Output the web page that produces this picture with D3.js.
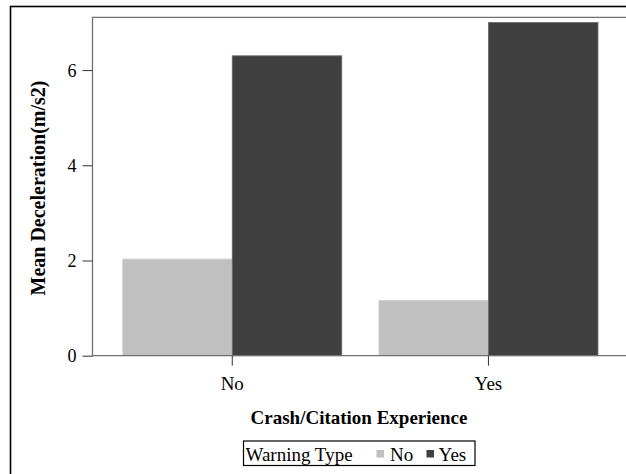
<!DOCTYPE html>
<html><head><meta charset="utf-8">
<script src="https://cdn.jsdelivr.net/npm/d3@7"></script>
<style>body{margin:0;background:#fff}svg{display:block}text{font-family:"Liberation Serif","Times New Roman",serif;fill:#000}</style>
</head><body><svg id="c" width="626" height="474"></svg>
<script>
const categories = ["No", "Yes"];
const seriesNames = ["No", "Yes"];
const valuesNo = [2.03, 1.16];
const valuesYes = [6.30, 7.00];
const yTicks = [0, 2, 4, 6];
const colors = ["#c0c0c0", "#404040"];

const svg = d3.select("#c");
const L = 92.5, T = 17.3, B = 355.7, RB = 628.2;

// outer border
svg.append("rect").attr("x", 10.5).attr("y", 6.5).attr("width", 700).attr("height", 600)
  .attr("fill", "none").attr("stroke", "#000").attr("stroke-width", 1.6);

const x0 = d3.scaleBand().domain(categories).range([L, RB]).paddingInner(0.145).paddingOuter(0.118);
const x1 = d3.scaleBand().domain(seriesNames).range([0, x0.bandwidth()]);
const y = d3.scaleLinear().domain([0, 7.109]).range([B, T]);

const data = categories.map((c, i) => ({cat: c, vals: [valuesNo[i], valuesYes[i]]}));

const g = svg.append("g");
data.forEach(d => {
  d.vals.forEach((v, j) => {
    g.append("rect")
      .attr("x", x0(d.cat) + x1(seriesNames[j]))
      .attr("y", y(v))
      .attr("width", x1.bandwidth())
      .attr("height", B - y(v))
      .attr("fill", colors[j])
      .attr("stroke", j === 0 ? "#cfcfcf" : "#6a6a6a")
      .attr("stroke-width", 0.8);
  });
});

// frame
svg.append("path").attr("d", `M640,${T}H${L}V${B}H640`)
  .attr("fill", "none").attr("stroke", "#707070").attr("stroke-width", 1.3);

// y axis
const ya = svg.append("g").attr("transform", `translate(${L},0)`)
  .call(d3.axisLeft(y).tickValues(yTicks).tickSize(10).tickPadding(6).tickFormat(d3.format("d")));
ya.select(".domain").remove();
ya.selectAll("line").attr("stroke", "#333");
ya.selectAll("text").attr("font-size", 18).attr("font-family", null).attr("dy", "0.33em");

// x axis
const xa = svg.append("g").attr("transform", `translate(0,${B})`)
  .call(d3.axisBottom(x0).tickSize(10).tickPadding(10));
xa.select(".domain").remove();
xa.selectAll("line").attr("stroke", "#333");
xa.selectAll("text").attr("font-size", 19).attr("font-family", null).attr("dy", null).attr("y", 34.3);

svg.append("text").attr("x", 359).attr("y", 424).attr("text-anchor", "middle")
  .attr("font-size", 19).attr("font-weight", "bold").text("Crash/Citation Experience");

svg.append("text").attr("transform", "translate(45,188) rotate(-90)")
  .attr("text-anchor", "middle").attr("font-size", 20).attr("font-weight", "bold")
  .text("Mean Deceleration(m/s2)");

// legend
const lg = svg.append("g");
lg.append("rect").attr("x", 243.5).attr("y", 441).attr("width", 231.5).attr("height", 24.5)
  .attr("fill", "#fff").attr("stroke", "#000").attr("stroke-width", 1.2);
lg.append("text").attr("x", 245.5).attr("y", 461).attr("font-size", 19).text("Warning Type");
const legX = [376.5, 426.5];
const legTX = [390, 438.6];
seriesNames.forEach((s, j) => {
  lg.append("rect").attr("x", legX[j]).attr("y", 450).attr("width", 7.5).attr("height", 7.5).attr("fill", colors[j]);
  lg.append("text").attr("x", legTX[j]).attr("y", 461).attr("font-size", 19).text(s);
});
</script></body></html>
